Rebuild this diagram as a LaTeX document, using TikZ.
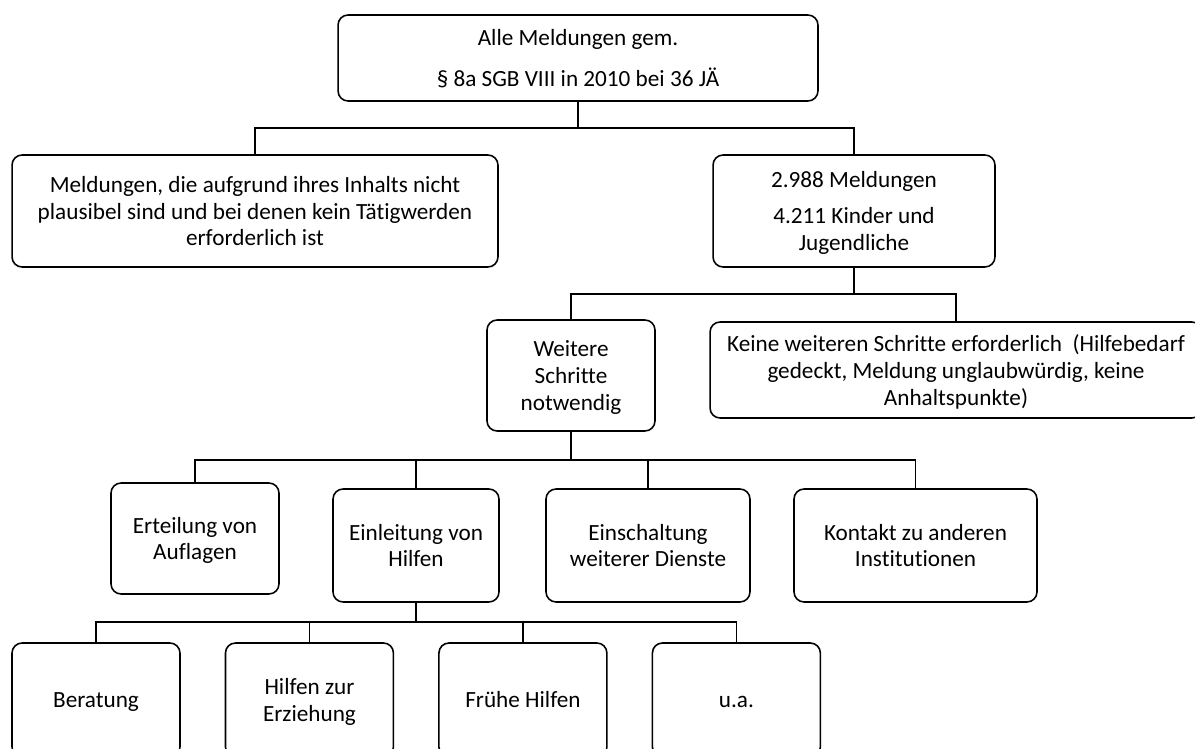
\documentclass[tikz,border=0pt]{standalone}
\usepackage{fontspec}
\setmainfont{Carlito}[Ligatures=NoCommon]
\usepackage{tikz}
\usetikzlibrary{positioning}
\tikzset{
x=0.02cm, y=-0.02cm, % one unit is one pixel of the chart
node distance=4.27cm, % centre to centre distance in the lowest row
every node/.style={font=\fontsize{13.2}{15.2}\selectfont, align=center, inner sep=0pt},
box/.style 2 args={draw, line width=0.9pt, rounded corners=0.2cm, minimum width=#1, minimum height=#2,
  text depth=0pt}, % the rounded boxes, text sits a bit low
oneline/.style={text height=9pt}, % same baseline for boxes with one line
link/.style={line width=0.7pt}, % thin lines to the children
stem/.style={line width=1.3pt}, % thick line below a parent
}

\begin{document}
\begin{tikzpicture}
            \useasboundingbox (0,0) rectangle (1195,749);
            \clip (0,0) rectangle (1195,749);
            \node[box={9.6cm}{1.72cm}] (alle) at (578,58) {Alle Meldungen gem.\\[8.6pt] \S{} 8a SGB VIII in 2010 bei 36 JÄ};
            \node[box={9.72cm}{2.24cm}] (plaus) at (255,211) {Meldungen, die aufgrund ihres Inhalts nicht\\ plausibel sind und bei denen kein Tätigwerden\\ erforderlich ist};
            \node[box={5.64cm}{2.24cm}] (meld) at (854,211) {2.988 Meldungen\\[5.2pt] 4.211 Kinder und\\ Jugendliche};
            \node[box={3.36cm}{2.22cm}] (weit) at (571,375.5) {Weitere\\ Schritte\\ notwendig};
            \node[box={9.84cm}{1.92cm}] (keine) at (956,370) {Keine weiteren Schritte erforderlich~ (Hilfebedarf\\ gedeckt, Meldung unglaubwürdig, keine\\ Anhaltspunkte)};
            \node[box={3.36cm}{2.22cm}] (ert) at (195,538.5) {Erteilung von\\ Auflagen};
            \node[box={3.32cm}{2.26cm}] (einl) at (416,545.5) {Einleitung von\\ Hilfen};
            \node[box={4.08cm}{2.26cm}] (einsch) at (648,545.5) {Einschaltung\\ weiterer Dienste};
            \node[box={4.86cm}{2.26cm}] (kont) at (915.5,545.5) {Kontakt zu anderen\\ Institutionen};
            \node[box={3.36cm}{2.28cm}, oneline] (ber) at (96,700) {Beratung};
            \node[box={3.36cm}{2.28cm}, right of=ber] (hilf) {Hilfen zur\\ Erziehung};
            \node[box={3.36cm}{2.28cm}, oneline, right of=hilf] (frueh) {Frühe Hilfen};
            \node[box={3.36cm}{2.28cm}, oneline, right of=frueh] (ua) {u.a.};
            \coordinate (bus1) at (578,128);
            \coordinate (bus2) at (854,294);
            \coordinate (bus3) at (571,460);
            \coordinate (bus4) at (416,622);
            \draw[stem] (alle) -- (bus1);
            \draw[link] (plaus) |- (bus1) -| (meld);
            \draw[stem] (meld) -- (bus2);
            \draw[link] (weit) |- (bus2) -| (keine);
            \draw[stem] (weit) -- (bus3);
            \draw[link] (ert) |- (bus3) -| (kont);
            \draw[link] (einl) -- (einl |- bus3);
            \draw[link] (einsch) -- (einsch |- bus3);
            \draw[stem] (einl) -- (bus4);
            \draw[link] (ber) |- (bus4) -| (ua);
            \draw[link] (hilf) -- (hilf |- bus4);
            \draw[link] (frueh) -- (frueh |- bus4);
\end{tikzpicture}
\end{document}
